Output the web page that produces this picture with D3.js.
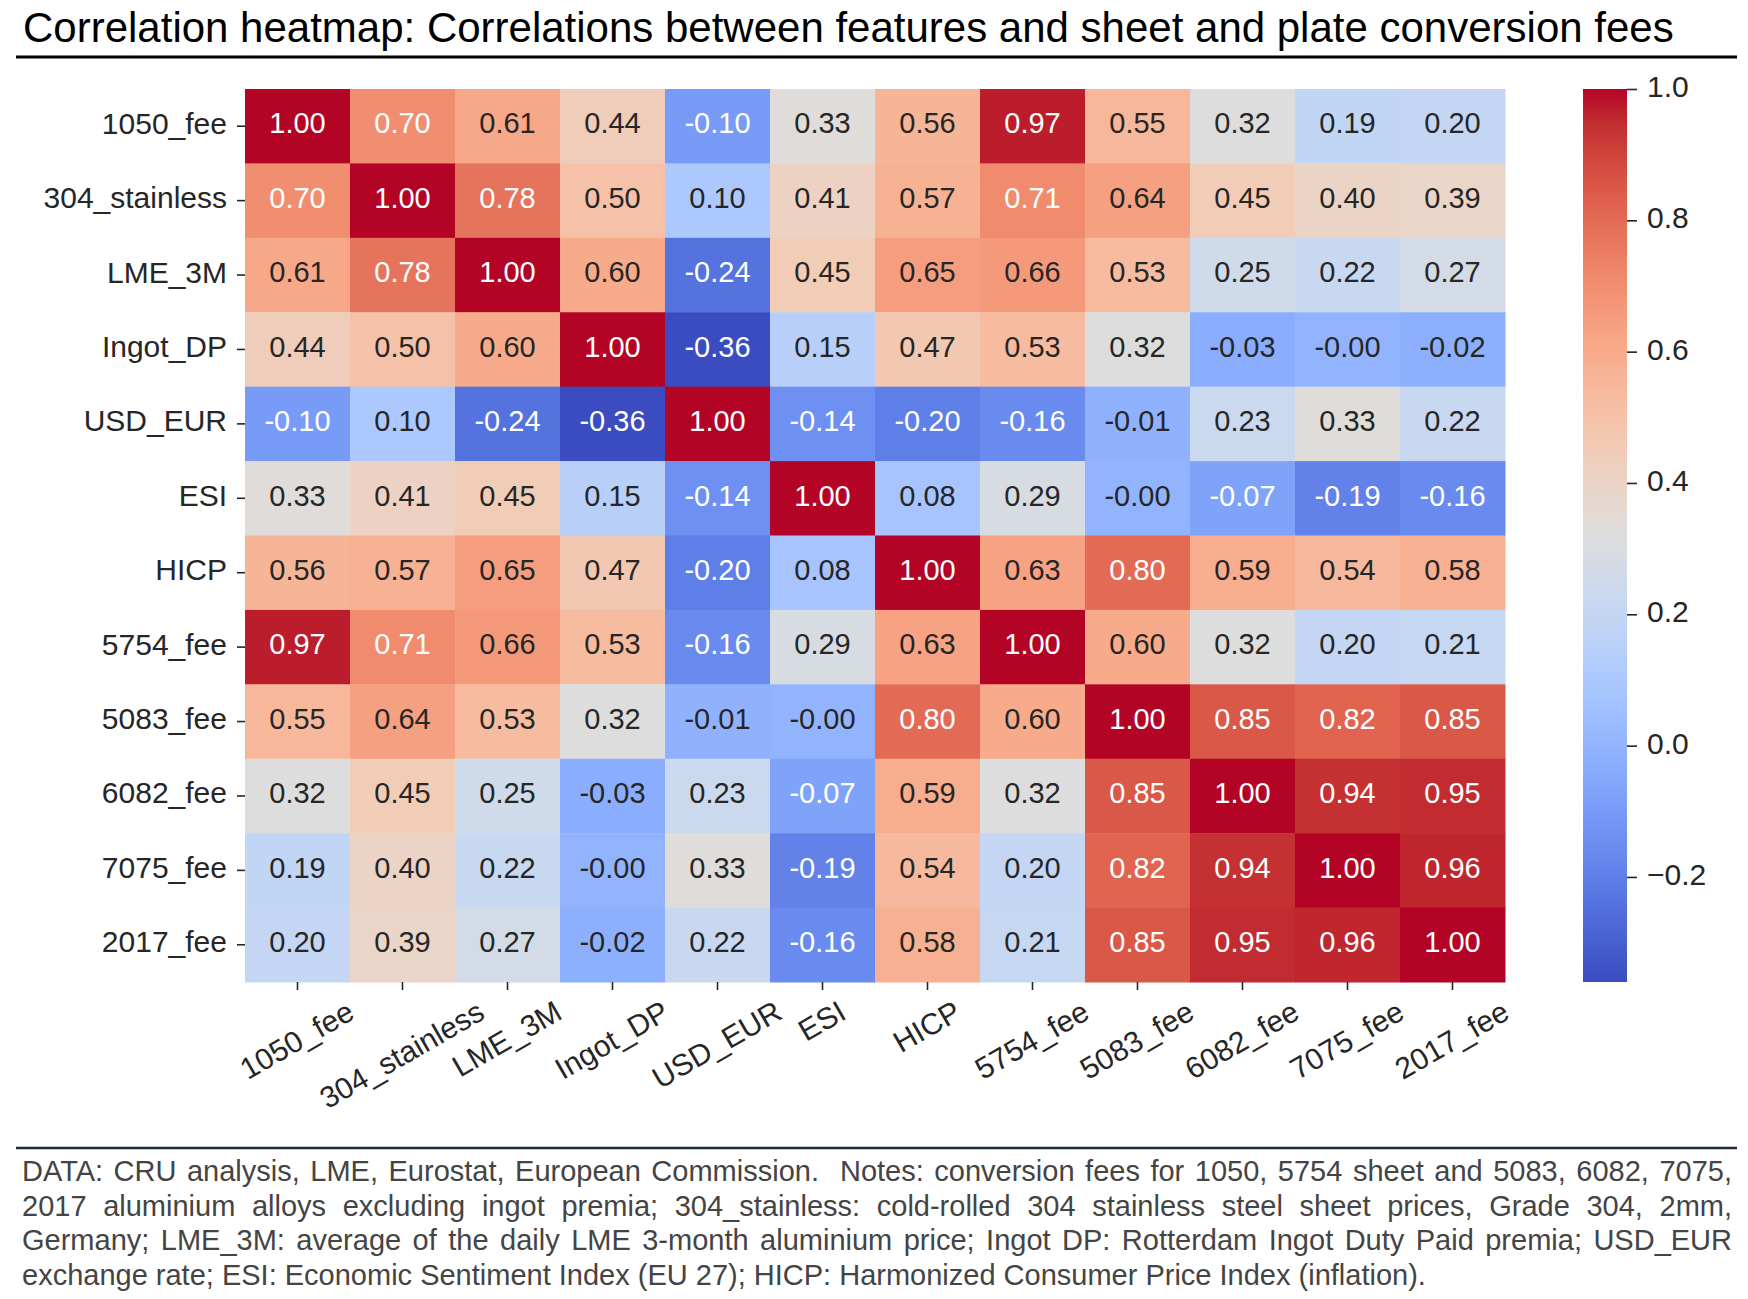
<!DOCTYPE html>
<html lang="en">
<head>
    <meta charset="utf-8"/>
    <title>Correlation heatmap</title>
    <script src="https://d3js.org/d3.v7.min.js"></script>
    <style>
        body { margin: 0; background: #fff; }
        svg text { font-family: "Liberation Sans", Arial, sans-serif; }
    </style>
</head>
<body>
<div id="chart"></div>
<script>
    const titleText = "Correlation heatmap: Correlations between features and sheet and plate conversion fees";

    // same order on both axes
    const features = ["1050_fee", "304_stainless", "LME_3M", "Ingot_DP", "USD_EUR", "ESI",
                      "HICP", "5754_fee", "5083_fee", "6082_fee", "7075_fee", "2017_fee"];

    // correlation matrix, one row per feature
    const corr = [
        [1.00, 0.70, 0.61, 0.44, -0.10, 0.33, 0.56, 0.97, 0.55, 0.32, 0.19, 0.20],
        [0.70, 1.00, 0.78, 0.50, 0.10, 0.41, 0.57, 0.71, 0.64, 0.45, 0.40, 0.39],
        [0.61, 0.78, 1.00, 0.60, -0.24, 0.45, 0.65, 0.66, 0.53, 0.25, 0.22, 0.27],
        [0.44, 0.50, 0.60, 1.00, -0.36, 0.15, 0.47, 0.53, 0.32, -0.03, -0.00, -0.02],
        [-0.10, 0.10, -0.24, -0.36, 1.00, -0.14, -0.20, -0.16, -0.01, 0.23, 0.33, 0.22],
        [0.33, 0.41, 0.45, 0.15, -0.14, 1.00, 0.08, 0.29, -0.00, -0.07, -0.19, -0.16],
        [0.56, 0.57, 0.65, 0.47, -0.20, 0.08, 1.00, 0.63, 0.80, 0.59, 0.54, 0.58],
        [0.97, 0.71, 0.66, 0.53, -0.16, 0.29, 0.63, 1.00, 0.60, 0.32, 0.20, 0.21],
        [0.55, 0.64, 0.53, 0.32, -0.01, -0.00, 0.80, 0.60, 1.00, 0.85, 0.82, 0.85],
        [0.32, 0.45, 0.25, -0.03, 0.23, -0.07, 0.59, 0.32, 0.85, 1.00, 0.94, 0.95],
        [0.19, 0.40, 0.22, -0.00, 0.33, -0.19, 0.54, 0.20, 0.82, 0.94, 1.00, 0.96],
        [0.20, 0.39, 0.27, -0.02, 0.22, -0.16, 0.58, 0.21, 0.85, 0.95, 0.96, 1.00]
    ];

    const colorbarTicks = [-0.2, 0.0, 0.2, 0.4, 0.6, 0.8, 1.0];

    const footnoteLines = [
        "DATA: CRU analysis, LME, Eurostat, European Commission.  Notes: conversion fees for 1050, 5754 sheet and 5083, 6082, 7075,",
        "2017 aluminium alloys excluding ingot premia; 304_stainless: cold-rolled 304 stainless steel sheet prices, Grade 304, 2mm,",
        "Germany; LME_3M: average of the daily LME 3-month aluminium price; Ingot DP: Rotterdam Ingot Duty Paid premia; USD_EUR",
        "exchange rate; ESI: Economic Sentiment Index (EU 27); HICP: Harmonized Consumer Price Index (inflation)."
    ];

    // matplotlib "coolwarm" control colours (Moreland)
    const coolwarm = [
        [59,76,192],[68,90,204],[77,104,215],[87,117,225],[98,130,234],[108,142,241],[119,154,247],
        [130,165,251],[141,176,254],[152,185,255],[163,194,255],[174,201,253],[184,208,249],[194,213,244],
        [204,217,238],[213,219,230],[221,221,221],[229,216,209],[236,211,197],[241,204,184],[245,196,172],
        [247,187,159],[247,177,147],[247,166,134],[244,154,123],[241,141,111],[236,127,99],[229,112,89],
        [222,96,77],[213,80,66],[203,62,56],[192,40,47],[180,4,38]
    ];

    const W = 1748, H = 1299;
    const FS = 29;        // annotations
    const TFS = 30;       // tick labels
    const ink = '#262626';

    const svg = d3.select('#chart').append('svg')
        .attr('width', W)
        .attr('height', H);

    // Title + rule
    svg.append('text')
        .attr('x', 23).attr('y', 42)
        .attr('fill', '#000')
        .style('font-size', '42px')
        .text(titleText);
    svg.append('line')
        .attr('x1', 16).attr('x2', 1737)
        .attr('y1', 57).attr('y2', 57)
        .attr('stroke', '#000').attr('stroke-width', 3);

    const plot = {left: 245, right: 1505, top: 89, bottom: 982};

    const x = d3.scaleBand().domain(features).range([plot.left, plot.right]);
    const y = d3.scaleBand().domain(features).range([plot.top, plot.bottom]);

    const allVals = corr.flat();
    const vmin = d3.min(allVals), vmax = d3.max(allVals);
    const norm = d3.scaleLinear().domain([vmin, vmax]).range([0, 1]).clamp(true);
    const cmap = d3.scaleLinear()
        .domain(coolwarm.map((c, i) => i / (coolwarm.length - 1)))
        .range(coolwarm.map(c => d3.rgb(c[0], c[1], c[2])))
        .interpolate(d3.interpolateRgb);
    const colorOf = v => cmap(norm(v));

    // seaborn picks annotation colour from the cell luminance
    function luminance(col) {
        const c = d3.rgb(col);
        const lin = u => { u /= 255; return u <= 0.03928 ? u / 12.92 : Math.pow((u + 0.055) / 1.055, 2.4); };
        return 0.2126 * lin(c.r) + 0.7152 * lin(c.g) + 0.0722 * lin(c.b);
    }
    const fmt = v => ((v < 0 || Object.is(v, -0)) ? '-' : '') + Math.abs(v).toFixed(2);

    const cells = [];
    corr.forEach((row, i) => row.forEach((v, j) => cells.push({r: features[i], c: features[j], v: v})));

    const g = svg.append('g');
    g.selectAll('rect.cell')
        .data(cells)
        .enter().append('rect')
        .attr('class', 'cell')
        .attr('x', d => x(d.c))
        .attr('y', d => y(d.r))
        .attr('width', x.bandwidth() + 0.5)
        .attr('height', y.bandwidth() + 0.5)
        .attr('fill', d => colorOf(d.v));

    g.selectAll('text.annot')
        .data(cells)
        .enter().append('text')
        .attr('class', 'annot')
        .attr('x', d => x(d.c) + x.bandwidth() / 2)
        .attr('y', d => y(d.r) + y.bandwidth() / 2)
        .attr('dy', '0.25em')
        .attr('text-anchor', 'middle')
        .attr('fill', d => luminance(colorOf(d.v)) > 0.408 ? ink : '#fff')
        .style('font-size', FS + 'px')
        .text(d => fmt(d.v));

    // Y axis
    const yAxis = svg.append('g')
        .attr('transform', `translate(${plot.left},0)`)
        .call(d3.axisLeft(y).tickSize(8).tickPadding(10));
    yAxis.select('.domain').remove();
    yAxis.selectAll('line').attr('stroke', ink).attr('stroke-width', 1.6);
    yAxis.selectAll('text')
        .attr('fill', ink)
        .attr('dy', '0.25em')
        .style('font-size', TFS + 'px')
        .style('font-family', '"Liberation Sans", Arial, sans-serif');

    // X axis, labels rotated 30deg and centred on the tick (matplotlib ha='center')
    const xAxis = svg.append('g')
        .attr('transform', `translate(0,${plot.bottom})`)
        .call(d3.axisBottom(x).tickSize(8).tickPadding(0));
    xAxis.select('.domain').remove();
    xAxis.selectAll('line').attr('stroke', ink).attr('stroke-width', 1.6);
    const ang = 30 * Math.PI / 180;
    xAxis.selectAll('text')
        .attr('fill', ink)
        .style('font-size', TFS + 'px')
        .style('font-family', '"Liberation Sans", Arial, sans-serif')
        .attr('text-anchor', 'middle')
        .attr('y', 0)
        .attr('dy', '0.3em')
        .each(function() {
            const w = this.getComputedTextLength();
            const h = TFS * 1.15;
            const boxH = w * Math.sin(ang) + h * Math.cos(ang);
            d3.select(this).attr('transform', `translate(0,${13 + boxH / 2}) rotate(-30)`);
        });

    // Colorbar
    const cb = {x: 1583, w: 44};
    const defs = svg.append('defs');
    const grad = defs.append('linearGradient')
        .attr('id', 'cbgrad')
        .attr('x1', 0).attr('y1', 1).attr('x2', 0).attr('y2', 0);
    d3.range(0, 1.0001, 0.02).forEach(t => {
        grad.append('stop').attr('offset', t).attr('stop-color', cmap(t));
    });
    svg.append('rect')
        .attr('x', cb.x).attr('y', plot.top)
        .attr('width', cb.w).attr('height', plot.bottom - plot.top)
        .attr('fill', 'url(#cbgrad)');

    const cbScale = d3.scaleLinear().domain([vmin, vmax]).range([plot.bottom, plot.top]);
    const cbAxis = svg.append('g')
        .attr('transform', `translate(${cb.x + cb.w},0)`)
        .call(d3.axisRight(cbScale).tickValues(colorbarTicks).tickFormat(d3.format('.1f')).tickSize(10).tickPadding(10));
    cbAxis.select('.domain').remove();
    cbAxis.selectAll('line').attr('stroke', ink).attr('stroke-width', 1.6);
    cbAxis.selectAll('text')
        .attr('fill', ink)
        .attr('dy', '0.25em')
        .style('font-size', TFS + 'px')
        .style('font-family', '"Liberation Sans", Arial, sans-serif');

    // Footnote
    svg.append('line')
        .attr('x1', 16).attr('x2', 1737)
        .attr('y1', 1148).attr('y2', 1148)
        .attr('stroke', '#1e2c3d').attr('stroke-width', 2.5);

    const FFS = 29;
    const measure = s => {
        const m = svg.append('text').style('font-size', FFS + 'px').text(s);
        const len = m.node().getComputedTextLength();
        m.remove();
        return len;
    };
    const spaceW = measure('a a') - 2 * measure('a');

    const fnLeft = 22, fnRight = 1732, fnTop = 1181, fnStep = 34.7;
    footnoteLines.forEach((line, i) => {
        const t = svg.append('text')
            .attr('y', fnTop + i * fnStep)
            .attr('fill', '#444')
            .style('font-size', FFS + 'px');
        const words = line.split(' ');        // a double space keeps its wider gap
        const last = i === footnoteLines.length - 1;
        const widths = words.map(wd => wd ? measure(wd) : 0);
        const total = d3.sum(widths);
        const gap = last ? spaceW : (fnRight - fnLeft - total) / (words.length - 1);
        let cx = fnLeft;
        words.forEach((wd, k) => {
            if (wd) t.append('tspan').attr('x', cx).text(wd);
            cx += widths[k] + gap;
        });
    });
</script>
</body>
</html>
